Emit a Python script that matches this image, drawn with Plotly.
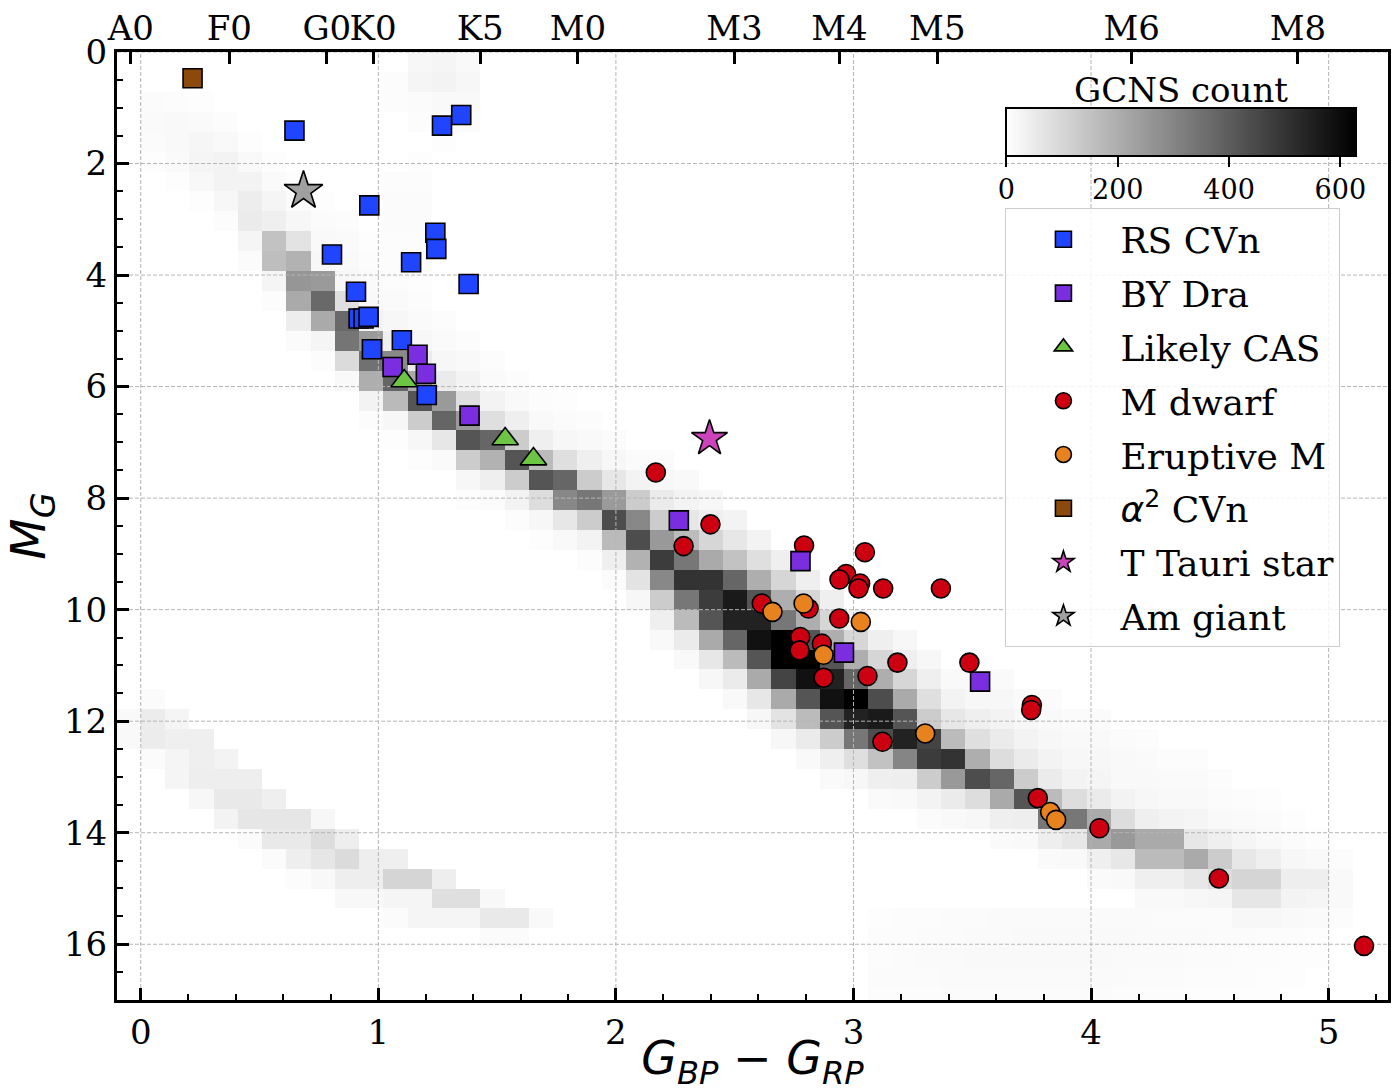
import plotly.graph_objects as go

# ---------------- histogram (GCNS count) ----------------
DX, DY = 0.1021, 0.357          # bin size in colour and magnitude
COL_MIN, COL_MAX = -1, 50        # column indices (x = i*DX)
NROWS = 48                       # row indices (y = j*DY)

# main sequence: column index, first row index, counts per row
MS_COL = list(range(0, 50))
MS_ROW0 = [2, 2, 2, 3, 4, 5, 6, 7, 8, 9, 11, 12, 13, 14, 15, 16, 17, 17, 18, 19,
           20, 20, 21, 22, 23, 24, 25, 26, 27, 28, 29, 29, 30, 31, 31, 31, 32, 32, 33, 33,
           34, 34, 35, 35, 36, 37, 37, 38, 39, 40]
MS_COUNTS = [
    [10, 12, 10, 6],
    [8, 14, 16, 12, 6],
    [6, 12, 22, 25, 18, 6],
    [8, 15, 30, 30, 20, 8],
    [6, 15, 30, 45, 50, 25, 10],
    [6, 12, 25, 40, 150, 160, 25, 8],
    [5, 10, 20, 70, 190, 260, 210, 45, 10],
    [5, 10, 15, 20, 250, 370, 210, 25, 8],
    [8, 12, 15, 20, 80, 370, 340, 90, 15],
    [6, 8, 12, 15, 30, 250, 350, 200, 30, 8],
    [8, 12, 20, 40, 290, 380, 170, 20, 6],
    [8, 12, 20, 50, 210, 420, 126, 20, 6],
    [8, 12, 20, 50, 250, 380, 60, 12],
    [8, 15, 30, 80, 250, 420, 126, 20, 6],
    [8, 12, 30, 80, 378, 190, 40, 10],
    [8, 15, 40, 126, 420, 126, 30, 8],
    [8, 15, 40, 168, 420, 84, 20, 6],
    [6, 10, 20, 80, 378, 294, 60, 15],
    [8, 15, 40, 126, 336, 126, 30, 8],
    [10, 20, 60, 250, 440, 170, 40, 10],
    [10, 30, 126, 294, 440, 190, 70, 20],
    [10, 20, 50, 126, 252, 480, 294, 126, 40, 15],
    [15, 30, 60, 168, 336, 504, 336, 168, 50, 15],
    [20, 40, 100, 210, 504, 480, 420, 210, 60, 20],
    [30, 60, 150, 378, 566, 546, 378, 168, 50, 15],
    [30, 80, 200, 420, 546, 588, 420, 210, 60, 20],
    [40, 100, 200, 336, 630, 630, 462, 210, 70, 20],
    [40, 100, 200, 420, 630, 588, 420, 168, 50, 15],
    [40, 100, 200, 420, 546, 588, 420, 126, 40, 12],
    [40, 100, 200, 378, 630, 546, 336, 80, 20],
    [40, 100, 200, 440, 566, 440, 150, 40, 12],
    [20, 40, 100, 210, 420, 546, 300, 42, 15],
    [20, 40, 80, 126, 462, 480, 126, 30, 10],
    [15, 30, 60, 168, 504, 252, 50, 15],
    [15, 20, 40, 80, 200, 440, 84, 20],
    [12, 20, 30, 50, 84, 378, 210, 40, 12],
    [12, 20, 30, 50, 126, 420, 42, 15],
    [10, 15, 20, 30, 50, 168, 336, 42, 12],
    [10, 15, 20, 30, 84, 336, 60, 15],
    [10, 15, 20, 25, 50, 210, 210, 40, 12],
    [10, 15, 15, 30, 84, 252, 60, 15],
    [8, 12, 15, 20, 40, 210, 168, 40, 15],
    [8, 12, 15, 30, 210, 168, 40, 15],
    [8, 12, 15, 25, 60, 210, 60, 20],
    [8, 10, 15, 40, 126, 84, 25],
    [8, 12, 25, 60, 104, 62, 20],
    [6, 10, 15, 40, 104, 62, 20],
    [6, 10, 20, 42, 30, 15],
    [6, 15, 42, 25, 12],
    [8, 15, 15, 8],
]

# giant clump / subgiants
GI_COL = [10, 11, 12, 13, 10, 11]
GI_ROW0 = [1, 0, 0, 0, 6, 5]
GI_COUNTS = [[8, 8], [20, 25, 10, 8], [25, 30, 15, 10, 6], [15, 20, 15, 10],
             [8, 10, 10, 8, 8], [6, 8, 10, 10, 8, 8, 6]]

# white dwarf sequence
WD_COL = list(range(-1, 17))
WD_ROW0 = [33, 32, 33, 34, 35, 36, 37, 38, 38, 39, 40, 40, 41, 41, 42, 42, 43, 43]
WD_COUNTS = [[15, 15], [10, 47, 47, 10], [25, 40, 25, 25], [40, 40, 42, 20],
             [30, 42, 55, 30], [42, 55, 62, 10], [40, 62, 55, 10], [62, 55, 42, 8],
             [20, 84, 62, 17], [42, 90, 42, 17], [42, 42, 17], [40, 104, 25, 10],
             [104, 25, 25], [42, 80, 25], [80, 25], [17, 55, 10], [55, 10], [15]]

# faint cells below the lower main sequence
LOW_COL = list(range(30, 49))
LOW_ROW0 = [43] * 15 + [44] * 4
LOW_COUNTS = [[6, 8, 8, 10, 8], [8, 8, 10, 10, 8], [8, 10, 12, 10, 8], [10, 10, 12, 12, 10],
              [10, 12, 15, 12, 10], [12, 12, 15, 12, 10], [12, 15, 15, 12, 10],
              [12, 15, 15, 12, 10], [12, 15, 15, 12, 10], [12, 15, 15, 12, 10],
              [12, 15, 12, 12, 8], [12, 12, 12, 10, 8], [10, 12, 12, 10, 8],
              [10, 12, 10, 8, 6], [10, 10, 10, 8, 6], [10, 8, 8, 6], [8, 8, 6, 6],
              [8, 6, 6], [6, 6]]

# ---------------- catalogue stars ----------------
RSCVN_X = [0.647, 1.268, 1.349, 0.962, 1.240, 1.244, 1.138, 0.805, 1.380, 0.906,
           0.917, 0.938, 0.959, 1.099, 0.973, 1.204]
RSCVN_Y = [1.41, 1.32, 1.13, 2.75, 3.24, 3.53, 3.77, 3.63, 4.16, 4.30,
           4.78, 4.78, 4.75, 5.17, 5.33, 6.15]
BYDRA_X = [1.060, 1.165, 1.200, 1.384, 2.265, 2.777, 2.960, 3.533]
BYDRA_Y = [5.65, 5.43, 5.77, 6.52, 8.40, 9.13, 10.77, 11.29]
CAS_X = [1.109, 1.534, 1.653]
CAS_Y = [5.90, 6.94, 7.30]
MDW_X = [2.168, 2.398, 2.285, 2.792, 3.048, 2.969, 2.941, 3.028, 3.021, 3.125,
         3.368, 2.614, 2.811, 2.940, 2.776, 2.773, 2.867, 2.874, 3.059, 3.185,
         3.488, 3.122, 3.751, 3.748, 3.776, 4.035, 4.538, 5.149]
MDW_Y = [7.54, 8.47, 8.86, 8.85, 8.97, 9.36, 9.46, 9.53, 9.62, 9.62,
         9.62, 9.89, 9.98, 10.16, 10.49, 10.73, 10.61, 11.22, 11.19, 10.95,
         10.95, 12.37, 11.71, 11.80, 13.38, 13.92, 14.82, 16.03]
ERM_X = [2.659, 2.790, 3.031, 2.874, 3.302, 3.828, 3.853]
ERM_Y = [10.04, 9.89, 10.22, 10.81, 12.22, 13.63, 13.77]
A2CVN_X = [0.218]
A2CVN_Y = [0.47]
TTAU_X = [2.394]
TTAU_Y = [6.93]
AMG_X = [0.685]
AMG_Y = [2.49]

# spectral-type axis
SPT_POS = [-0.042, 0.373, 0.783, 0.978, 1.429, 1.840, 2.499, 2.941, 3.353, 4.171, 4.871]
SPT_LAB = ["A0", "F0", "G0", "K0", "K5", "M0", "M3", "M4", "M5", "M6", "M8"]

XTICKS = [0, 1, 2, 3, 4, 5]
YTICKS = [0, 2, 4, 6, 8, 10, 12, 14, 16]
XRANGE = [-0.1, 5.25]
YRANGE = [17, 0]
CB_TICKS = [0, 200, 400, 600]
CB_MAX = 629

# ---------------- build histogram grid ----------------
ncols = COL_MAX - COL_MIN + 1
z = [[None] * ncols for _ in range(NROWS)]


def add_segments(cols, row0s, counts):
    for c, r0, vals in zip(cols, row0s, counts):
        for k, v in enumerate(vals):
            z[r0 + k][c - COL_MIN] = v


add_segments(MS_COL, MS_ROW0, MS_COUNTS)
add_segments(GI_COL, GI_ROW0, GI_COUNTS)
add_segments(WD_COL, WD_ROW0, WD_COUNTS)
add_segments(LOW_COL, LOW_ROW0, LOW_COUNTS)

x_edges = [i * DX for i in range(COL_MIN, COL_MAX + 2)]
y_edges = [j * DY for j in range(NROWS + 1)]

SERIF = "DejaVu Serif"
SANS = "DejaVu Sans"

fig = go.Figure()

fig.add_trace(go.Heatmap(
    x=x_edges, y=y_edges, z=z, zmin=0, zmax=CB_MAX,
    colorscale=[[0, "#ffffff"], [1, "#000000"]],
    hoverinfo="skip", showlegend=False,
    colorbar=dict(
        orientation="h", x=0.8375, xanchor="center", y=0.941, yanchor="top",
        len=0.275, lenmode="fraction", thickness=48, xpad=0, ypad=0,
        outlinewidth=2, outlinecolor="black",
        tickvals=CB_TICKS, ticks="outside", ticklen=10, tickwidth=2, tickcolor="black",
        tickfont=dict(family=SERIF, size=27, color="black"),
    ),
))

# dashed grid drawn above the histogram but below the markers
gx, gy = [], []
for xv in XTICKS:
    gx += [xv, xv, None]
    gy += [YRANGE[0], YRANGE[1], None]
for yv in YTICKS:
    gx += [XRANGE[0], XRANGE[1], None]
    gy += [yv, yv, None]
fig.add_trace(go.Scatter(x=gx, y=gy, mode="lines", showlegend=False, hoverinfo="skip",
                         line=dict(color="#b5b5b5", width=1, dash="4px,2px")))

LINE = dict(color="black", width=1.6)


def add_stars(x, y, name, symbol, color, size, rank):
    fig.add_trace(go.Scatter(
        x=x, y=y, mode="markers", name=name, legendgroup=name, legendrank=rank,
        marker=dict(symbol=symbol, color=color, size=size, line=LINE),
    ))


add_stars(RSCVN_X, RSCVN_Y, "RS CVn", "square", "#1f45ff", 19, 1)
add_stars(MDW_X, MDW_Y, "M dwarf", "circle", "#cc0010", 19, 4)
add_stars(ERM_X, ERM_Y, "Eruptive M", "circle", "#e8821e", 19, 5)
add_stars(BYDRA_X, BYDRA_Y, "BY Dra", "square", "#7a2ee0", 19, 2)
add_stars(CAS_X, CAS_Y, "Likely CAS", "triangle-up", "#6cc644", 23, 3)
add_stars(A2CVN_X, A2CVN_Y,
          "<span style='font-family:DejaVu Sans'><i>α</i><sup>2</sup></span> CVn",
          "square", "#8b4a0c", 19, 6)
add_stars(TTAU_X, TTAU_Y, "T Tauri star", "star", "#cc44bb", 27, 7)
add_stars(AMG_X, AMG_Y, "Am giant", "star", "#a0a0a0", 29, 8)

# invisible helper so the spectral-type axis is rendered
fig.add_trace(go.Scatter(x=SPT_POS, y=[YRANGE[1]] * len(SPT_POS), xaxis="x2", mode="markers",
                         marker=dict(opacity=0), showlegend=False, hoverinfo="skip"))

tickfont = dict(family=SERIF, size=34, color="black")
fig.update_layout(
    width=1397, height=1092,
    margin=dict(l=117, r=9, t=52, b=92, autoexpand=False),
    paper_bgcolor="white", plot_bgcolor="white",
    font=dict(family=SERIF, color="black"),
    xaxis=dict(
        range=XRANGE, tickvals=XTICKS, ticks="inside", ticklen=12, tickwidth=2.5,
        tickcolor="black", showline=True, linewidth=3, linecolor="black", mirror=True,
        showgrid=False, zeroline=False, tickfont=tickfont, automargin=False,
        minor=dict(dtick=0.2, tick0=0, ticks="inside", ticklen=6, tickwidth=2,
                   tickcolor="black", showgrid=False),
        title=dict(text="<i>G</i><sub><i>BP</i></sub> − <i>G</i><sub><i>RP</i></sub>",
                   font=dict(family=SANS, size=46, color="black"), standoff=10),
    ),
    xaxis2=dict(
        range=XRANGE, overlaying="x", side="top", anchor="y", automargin=False,
        tickvals=SPT_POS, ticktext=SPT_LAB, ticks="inside", ticklen=12, tickwidth=2.5,
        tickcolor="black", tickangle=0, showgrid=False, showline=False, zeroline=False,
        tickfont=tickfont, ticklabelstandoff=4,
    ),
    yaxis=dict(
        range=YRANGE, tickvals=YTICKS, ticks="inside", ticklen=12, tickwidth=2.5,
        tickcolor="black", showline=True, linewidth=3, linecolor="black", mirror=True,
        showgrid=False, zeroline=False, tickfont=tickfont, automargin=False,
        minor=dict(dtick=0.5, tick0=0, ticks="inside", ticklen=6, tickwidth=2,
                   tickcolor="black", showgrid=False),
        title=dict(text="<i>M</i><sub><i>G</i></sub>",
                   font=dict(family=SANS, size=48, color="black"), standoff=10),
    ),
    legend=dict(
        x=0.699, y=0.835, xanchor="left", yanchor="top",
        bgcolor="rgba(255,255,255,0.85)", bordercolor="#cccccc", borderwidth=1,
        font=dict(family=SERIF, size=36, color="black"),
        tracegroupgap=4, itemwidth=104, traceorder="grouped",
    ),
    annotations=[dict(
        text="GCNS count", xref="paper", yref="paper", x=0.837, y=0.96,
        xanchor="center", yanchor="middle", showarrow=False,
        font=dict(family=SERIF, size=34, color="black"),
    )],
)

fig.write_html("out.html")
